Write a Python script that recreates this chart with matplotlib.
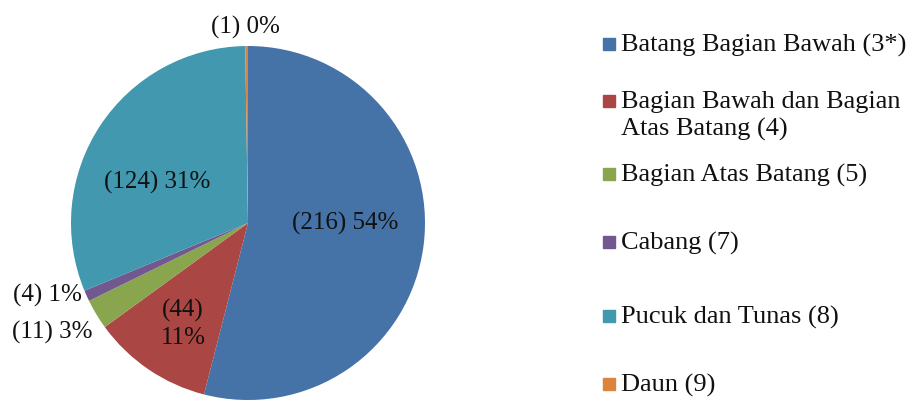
import matplotlib
matplotlib.use("Agg")
import matplotlib.pyplot as plt
from matplotlib.patches import Rectangle

# data
categories = ["Batang Bagian Bawah (3*)", "Bagian Bawah dan Bagian\nAtas Batang (4)",
              "Bagian Atas Batang (5)", "Cabang (7)", "Pucuk dan Tunas (8)", "Daun (9)"]
counts = [216, 44, 11, 4, 124, 1]
colors = ["#4572A7", "#AA4643", "#89A54E", "#71588F", "#4198AF", "#DB843D"]

plt.rcParams["font.family"] = ["Liberation Serif", "DejaVu Serif"]
W, H = 913, 403
fig = plt.figure(figsize=(W / 100, H / 100), dpi=100)

# pie: centre (248, 223) px, radius 177 px
cx, cy, r = 248, 223, 177
ax = fig.add_axes([(cx - r) / W, (H - cy - r) / H, 2 * r / W, 2 * r / H])
ax.pie(counts, colors=colors, startangle=90, counterclock=False, radius=1,
       wedgeprops=dict(linewidth=0))
ax.set_xlim(-1, 1); ax.set_ylim(-1, 1); ax.set_aspect("equal"); ax.axis("off")

total = sum(counts)
# label anchor points in pixels (layout only)
label_px = [(345, 223), (183, 324), (52, 332), (47, 295), (157, 182), (245, 27)]
for n, (px, py) in zip(counts, label_px):
    pct = round(100 * n / total)
    txt = f"({n})\n{pct}%" if n == 44 else f"({n}) {pct}%"
    ax.text((px - cx) / r, (cy - py) / r, txt, ha="center", va="center", fontsize=18,
            color="#111111", linespacing=1.3, clip_on=False)

# legend drawn by hand to match uneven spacing
legend_y = [45, 116, 175, 243, 317, 385]
for name, col, y in zip(categories, colors, legend_y):
    sq_y = y - 14 if "\n" in name else y
    fig.patches.append(Rectangle((603 / W, (H - sq_y - 5) / H), 12 / W, 12 / H,
                                 transform=fig.transFigure, color=col))
    fig.text(621 / W, (H - y) / H, name, ha="left", va="center",
             fontsize=19, color="#111111", linespacing=1.25)

fig.savefig("out.png", dpi=100)
